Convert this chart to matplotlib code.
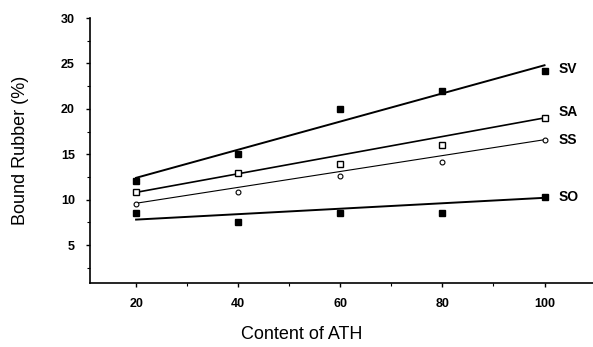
import numpy as np
import matplotlib
matplotlib.use("Agg")
import matplotlib.pyplot as plt
from matplotlib.ticker import MultipleLocator

plt.rcParams['font.family'] = ['Liberation Sans', 'DejaVu Sans']

content = [20, 40, 60, 80, 100]
sv = [12.0, 15.0, 20.0, 22.0, 24.2]
sa = [10.8, 12.9, 13.9, 16.0, 19.0]
ss = [9.5, 10.8, 12.6, 14.1, 16.6]
so = [8.5, 7.5, 8.5, 8.5, 10.3]
names = ["SV", "SA", "SS", "SO"]
# trend line values read at content = 20 and content = 100
trend_start = [12.4, 10.8, 9.6, 7.8]
trend_end = [24.8, 19.0, 16.6, 10.2]
trend_x = [20, 100]
label_y = [24.4, 19.6, 16.6, 10.3]

fig = plt.figure(figsize=(5.93, 3.47), dpi=100)
ax = fig.add_axes([0.152, 0.184, 0.848, 0.764])

series = [sv, sa, ss, so]
styles = [
    dict(marker='s', ms=4.5, mfc='black', mec='black', lw=1.4),
    dict(marker='s', ms=4, mfc='white', mec='black', mew=1.0, lw=1.2),
    dict(marker='o', ms=3.5, mfc='white', mec='black', mew=0.8, lw=0.8),
    dict(marker='s', ms=4.5, mfc='black', mec='black', lw=1.4),
]
for y, st, y0, y1 in zip(series, styles, trend_start, trend_end):
    ax.plot(trend_x, [y0, y1], color='black', lw=st['lw'], zorder=2)
    ax.plot(content, y, linestyle='none', marker=st['marker'], ms=st['ms'],
            mfc=st['mfc'], mec=st['mec'], mew=st.get('mew', 1.0), zorder=3)

for n, ly in zip(names, label_y):
    ax.text(102.7, ly, n, fontsize=10, fontweight='bold', va='center', ha='left')

ax.set_xlim(11, 109.5)
ax.set_ylim(0.8, 30)
ax.set_xticks(content)
ax.set_yticks([5, 10, 15, 20, 25, 30])
ax.xaxis.set_minor_locator(MultipleLocator(10))
ax.yaxis.set_minor_locator(MultipleLocator(2.5))
ax.tick_params(axis='both', which='major', direction='out', length=3, width=1, labelsize=9)
ax.tick_params(axis='both', which='minor', direction='out', length=2, width=0.8)
for lab in ax.get_xticklabels() + ax.get_yticklabels():
    lab.set_fontweight('bold')
ax.tick_params(axis='x', pad=8)
ax.tick_params(axis='y', pad=8)

for s in ['top', 'right']:
    ax.spines[s].set_visible(False)
ax.spines['left'].set_linewidth(1.2)
ax.spines['bottom'].set_linewidth(1.2)

ax.set_ylabel('Bound Rubber (%)', fontsize=13)
ax.set_xlabel('Content of ATH', fontsize=13)
ax.yaxis.set_label_coords(-0.122, 0.50)
ax.xaxis.set_label_coords(0.42, -0.16)

fig.savefig('out.png', dpi=100)
